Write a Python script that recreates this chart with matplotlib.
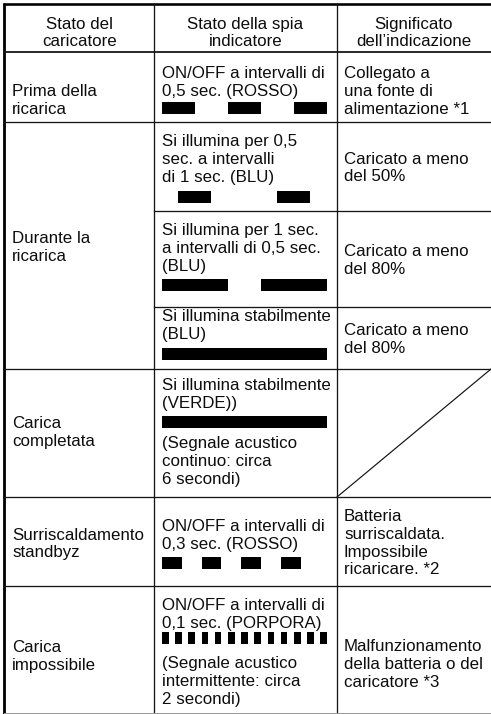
import numpy as np
import matplotlib
matplotlib.use("Agg")
import matplotlib.pyplot as plt
from matplotlib.patches import Rectangle

plt.rcParams["font.family"] = ["Liberation Sans", "DejaVu Sans"]

# ---- table content ----
headers = [["Stato del", "caricatore"],
           ["Stato della spia", "indicatore"],
           ["Significato", "dell\u2019indicazione"]]

# left column: charger state, and which indicator rows it spans
states = [["Prima della", "ricarica"],
          ["Durante la", "ricarica"],
          ["Carica", "completata"],
          ["Surriscaldamento", "standbyz"],
          ["Carica", "impossibile"]]
state_rows = [[0], [1, 2, 3], [4], [5], [6]]

# middle column: text above the blink bar, text below it
spia_top = [["ON/OFF a intervalli di", "0,5 sec. (ROSSO)"],
            ["Si illumina per 0,5", "sec. a intervalli", "di 1 sec. (BLU)"],
            ["Si illumina per 1 sec.", "a intervalli di 0,5 sec.", "(BLU)"],
            ["Si illumina stabilmente", "(BLU)"],
            ["Si illumina stabilmente", "(VERDE))"],
            ["ON/OFF a intervalli di", "0,3 sec. (ROSSO)"],
            ["ON/OFF a intervalli di", "0,1 sec. (PORPORA)"]]
spia_bottom = [None, None, None, None,
               ["(Segnale acustico", "continuo: circa", "6 secondi)"],
               None,
               ["(Segnale acustico", "intermittente: circa", "2 secondi)"]]

# right column: meaning (None = crossed-out cell)
meanings = [["Collegato a", "una fonte di", "alimentazione *1"],
            ["Caricato a meno", "del 50%"],
            ["Caricato a meno", "del 80%"],
            ["Caricato a meno", "del 80%"],
            None,
            ["Batteria", "surriscaldata.", "Impossibile", "ricaricare. *2"],
            ["Malfunzionamento", "della batteria o del", "caricatore *3"]]

# blink patterns in seconds: delay, on, off (off = 0 -> steady light)
blink_delay = [0.0, 0.25, 0.0, 0.0, 0.0, 0.0, 0.0]
blink_on = [0.5, 0.5, 1.0, 2.5, 2.5, 0.3, 0.1]
blink_off = [0.5, 1.0, 0.5, 0.0, 0.0, 0.3, 0.1]
window = 2.5

# ---- layout (pixels) ----
W, H = 491, 714
fig = plt.figure(figsize=(W / 100, H / 100), dpi=100)
ax = fig.add_axes([0, 0, 1, 1])
ax.set_xlim(0, W)
ax.set_ylim(H, 0)
ax.axis("off")

fs = 12.2
lsp = 17.8
px = 0.72  # one pixel in points
ink = "#0d0d0d"

x_left, x_c1, x_c2, x_right = 4.5, 154, 337, W
y_top, y_head = 4, 52
row_bottom = [122, 211, 307, 369, 497, 586, 714]

t0, px_per_s = 162, 66
bar_h = 12

head_base = 29
mid_base = [78, 146, 235, 321, 390, 531, 610]
bar_top = [102, 191, 279, 348, 416, 557, 632]
mid2_base = [None, None, None, None, 448, None, 668]
right_base = [78, 163.5, 256, 335, None, 521, 651]
left_base = [96, 243, 428, 539.5, 652]


def lines(x, y0, txt, ha="left", step=lsp):
    for i, t in enumerate(txt):
        ax.text(x, y0 + i * step, t, ha=ha, va="baseline", fontsize=fs, color=ink)


# header
head_x = [(x_left + x_c1) / 2, (x_c1 + x_c2) / 2, 414]
for hx, txt in zip(head_x, headers):
    lines(hx, head_base, txt, ha="center", step=16.8)

# left column
for txt, yb in zip(states, left_base):
    lines(12, yb, txt)

# middle and right columns
for i in range(len(spia_top)):
    lines(t0, mid_base[i], spia_top[i])
    if spia_bottom[i] is not None:
        lines(t0, mid2_base[i], spia_bottom[i])
    if meanings[i] is not None:
        lines(344, right_base[i], meanings[i])
    # blink bar
    period = blink_on[i] + blink_off[i]
    k = 0
    while True:
        s = blink_delay[i] + k * period
        if s + blink_on[i] > window + 1e-6:
            break
        ax.add_patch(Rectangle((t0 + s * px_per_s, bar_top[i]),
                               blink_on[i] * px_per_s, bar_h,
                               facecolor="black", edgecolor="none"))
        if blink_off[i] == 0:
            break
        k += 1

# grid lines
lc = "#151515"
ax.plot([x_left - 1, x_right], [y_top, y_top], color="black", lw=2.6 * px, solid_capstyle="butt")
ax.plot([x_left, x_left], [y_top - 1, H], color="black", lw=2.8 * px, solid_capstyle="butt")
ax.plot([x_left, x_right], [y_head, y_head], color=lc, lw=1.8 * px)
for xc in (x_c1, x_c2):
    ax.plot([xc, xc], [y_top, H], color=lc, lw=1.3 * px)
for j, yb in enumerate(row_bottom[:-1]):
    xs = x_c1 if j in (1, 2) else x_left
    ax.plot([xs, x_right], [yb, yb], color=lc, lw=1.3 * px)
ax.plot([x_left, x_right], [H - 1, H - 1], color="#9a9a9a", lw=1.0 * px)

# crossed cell (no meaning)
ax.plot([x_c2, x_right], [row_bottom[4], row_bottom[3]], color=lc, lw=1.2 * px)

fig.savefig("out.png", dpi=100)
